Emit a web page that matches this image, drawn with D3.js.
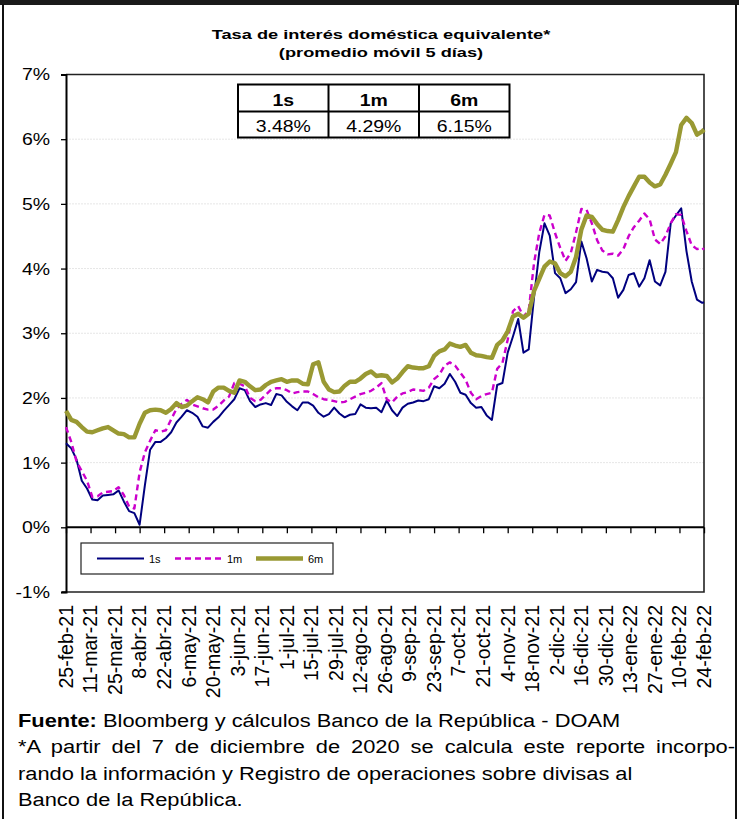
<!DOCTYPE html>
<html>
<head>
<meta charset="utf-8">
<script src="https://cdn.jsdelivr.net/npm/d3@7"></script>
<style>
  body { margin: 0; background: #fff; }
  svg { display: block; }
  text { font-family: Arial, "Liberation Sans", sans-serif; fill: #000; }
</style>
</head>
<body>
<svg id="chart" width="739" height="819"></svg>
<script>
// Observation dates (every third calendar day) and the three rate series, in %
const dates = [
  "2021-02-25","2021-02-28",
  "2021-03-03","2021-03-06","2021-03-09","2021-03-12","2021-03-15","2021-03-18","2021-03-21","2021-03-24","2021-03-27","2021-03-30",
  "2021-04-02","2021-04-05","2021-04-08","2021-04-11","2021-04-14","2021-04-17","2021-04-20","2021-04-23","2021-04-26","2021-04-29",
  "2021-05-02","2021-05-05","2021-05-08","2021-05-11","2021-05-14","2021-05-17","2021-05-20","2021-05-23","2021-05-26","2021-05-29",
  "2021-06-01","2021-06-04","2021-06-07","2021-06-10","2021-06-13","2021-06-16","2021-06-19","2021-06-22","2021-06-25","2021-06-28",
  "2021-07-01","2021-07-04","2021-07-07","2021-07-10","2021-07-13","2021-07-16","2021-07-19","2021-07-22","2021-07-25","2021-07-28","2021-07-31",
  "2021-08-03","2021-08-06","2021-08-09","2021-08-12","2021-08-15","2021-08-18","2021-08-21","2021-08-24","2021-08-27","2021-08-30",
  "2021-09-02","2021-09-05","2021-09-08","2021-09-11","2021-09-14","2021-09-17","2021-09-20","2021-09-23","2021-09-26","2021-09-29",
  "2021-10-02","2021-10-05","2021-10-08","2021-10-11","2021-10-14","2021-10-17","2021-10-20","2021-10-23","2021-10-26","2021-10-29",
  "2021-11-01","2021-11-04","2021-11-07","2021-11-10","2021-11-13","2021-11-16","2021-11-19","2021-11-22","2021-11-25","2021-11-28",
  "2021-12-01","2021-12-04","2021-12-07","2021-12-10","2021-12-13","2021-12-16","2021-12-19","2021-12-22","2021-12-25","2021-12-28","2021-12-31",
  "2022-01-03","2022-01-06","2022-01-09","2022-01-12","2022-01-15","2022-01-18","2022-01-21","2022-01-24","2022-01-27","2022-01-30",
  "2022-02-02","2022-02-05","2022-02-08","2022-02-11","2022-02-14","2022-02-17","2022-02-20","2022-02-23","2022-02-24"
];

const tasa1s = [
  1.30,1.22,1.05,0.72,0.60,0.43,0.42,0.49,0.50,0.51,
  0.57,0.40,0.25,0.22,0.04,0.65,1.20,1.32,1.32,1.38,
  1.47,1.62,1.71,1.81,1.77,1.71,1.56,1.54,1.63,1.70,
  1.80,1.89,1.98,2.15,2.12,1.95,1.86,1.90,1.92,1.89,
  2.06,2.04,1.94,1.87,1.81,1.93,1.93,1.88,1.77,1.71,
  1.75,1.85,1.76,1.70,1.74,1.75,1.90,1.85,1.84,1.85,
  1.78,1.96,1.81,1.72,1.85,1.91,1.93,1.96,1.95,1.98,
  2.18,2.15,2.22,2.37,2.25,2.08,2.05,1.92,1.85,1.86,
  1.73,1.66,2.20,2.23,2.70,2.95,3.22,2.70,2.75,3.55,
  4.25,4.70,4.51,3.93,3.85,3.62,3.68,3.79,4.42,4.16,
  3.80,3.98,3.95,3.94,3.85,3.55,3.67,3.90,3.93,3.72,
  3.85,4.13,3.80,3.74,3.95,4.70,4.82,4.93,4.27,3.80,
  3.52,3.47,3.48
];

const tasa1m = [
  1.55,1.32,1.02,0.87,0.72,0.47,0.48,0.54,0.55,0.56,
  0.62,0.50,0.32,0.29,0.85,1.16,1.34,1.50,1.48,1.50,
  1.67,1.83,1.91,1.97,1.90,1.87,1.84,1.82,1.82,1.88,
  1.96,2.02,2.23,2.22,2.18,2.00,1.95,1.97,2.05,2.13,
  2.15,2.15,2.12,2.07,2.09,2.10,2.10,2.06,2.01,1.98,
  1.97,1.95,1.93,1.94,1.98,2.02,2.06,2.08,2.11,2.16,
  2.23,1.98,1.93,2.02,2.07,2.09,2.13,2.12,2.11,2.16,
  2.29,2.36,2.50,2.55,2.50,2.39,2.28,2.08,1.98,2.03,
  2.06,2.08,2.45,2.54,2.90,3.34,3.42,3.26,3.35,4.08,
  4.55,4.83,4.82,4.55,4.32,4.12,4.24,4.56,4.92,4.91,
  4.70,4.44,4.28,4.22,4.23,4.20,4.30,4.50,4.64,4.74,
  4.85,4.76,4.45,4.38,4.50,4.70,4.84,4.83,4.58,4.36,
  4.30,4.32,4.29
];

const tasa6m = [
  1.80,1.66,1.63,1.55,1.48,1.47,1.50,1.53,1.55,1.50,
  1.45,1.44,1.39,1.39,1.60,1.77,1.81,1.82,1.81,1.77,
  1.83,1.92,1.86,1.88,1.95,2.01,1.98,1.93,2.10,2.16,
  2.16,2.11,2.08,2.27,2.25,2.18,2.12,2.13,2.20,2.25,
  2.27,2.29,2.25,2.27,2.27,2.22,2.21,2.52,2.55,2.25,
  2.13,2.09,2.10,2.19,2.25,2.25,2.30,2.37,2.41,2.34,
  2.35,2.34,2.24,2.30,2.40,2.49,2.47,2.46,2.46,2.49,
  2.65,2.72,2.75,2.84,2.81,2.79,2.82,2.70,2.66,2.65,
  2.63,2.62,2.82,2.89,3.03,3.26,3.30,3.24,3.30,3.65,
  3.84,4.03,4.11,4.08,3.93,3.88,3.95,4.18,4.60,4.82,
  4.80,4.69,4.60,4.58,4.57,4.75,4.95,5.12,5.27,5.42,
  5.42,5.33,5.27,5.30,5.45,5.62,5.80,6.22,6.33,6.25,
  6.07,6.12,6.15
];

const seriesNames = ["1s", "1m", "6m"];
const yTicks = [-1, 0, 1, 2, 3, 4, 5, 6, 7];
const tickDates = [
  "2021-02-25","2021-03-11","2021-03-25","2021-04-08","2021-04-22","2021-05-06","2021-05-20",
  "2021-06-03","2021-06-17","2021-07-01","2021-07-15","2021-07-29","2021-08-12","2021-08-26",
  "2021-09-09","2021-09-23","2021-10-07","2021-10-21","2021-11-04","2021-11-18","2021-12-02",
  "2021-12-16","2021-12-30","2022-01-13","2022-01-27","2022-02-10","2022-02-24"
];
const tickLabels = [
  "25-feb-21","11-mar-21","25-mar-21","8-abr-21","22-abr-21","6-may-21","20-may-21",
  "3-jun-21","17-jun-21","1-jul-21","15-jul-21","29-jul-21","12-ago-21","26-ago-21",
  "9-sep-21","23-sep-21","7-oct-21","21-oct-21","4-nov-21","18-nov-21","2-dic-21",
  "16-dic-21","30-dic-21","13-ene-22","27-ene-22","10-feb-22","24-feb-22"
];
const titleLines = ["Tasa de interés doméstica equivalente*", "(promedio móvil 5 días)"];
const footerLines = [
  "*A partir del 7 de diciembre de 2020 se calcula este reporte incorpo-",
  "rando la información y Registro de operaciones sobre divisas al",
  "Banco de la República."
];

const parse = d3.timeParse("%Y-%m-%d");
const W = 739, H = 819;
const plot = { left: 66, right: 704, top: 74.5, bottom: 592 };
const widen = 1.18; // horizontal text stretch used in the chart area
const footWiden = 1.15;

const styles = {
  "1s": { color: "#00007f", width: 2, dash: null },
  "1m": { color: "#cc00cc", width: 2.4, dash: "6,4" },
  "6m": { color: "#999933", width: 4.4, dash: null }
};
const seriesValues = { "1s": tasa1s, "1m": tasa1m, "6m": tasa6m };

const svg = d3.select("#chart");

// outer frame
svg.append("rect").attr("x", 0).attr("y", 0).attr("width", W).attr("height", 5).attr("fill", "#1a1a1a");
svg.append("line").attr("x1", 3).attr("x2", 3).attr("y1", 4).attr("y2", H).attr("stroke", "#111").attr("stroke-width", 2);
svg.append("line").attr("x1", 736).attr("x2", 736).attr("y1", 4).attr("y2", H).attr("stroke", "#111").attr("stroke-width", 2);

const x = d3.scaleTime()
  .domain([parse(dates[0]), parse(dates[dates.length - 1])])
  .range([plot.left, plot.right]);
const y = d3.scaleLinear().domain([-1, 7]).range([plot.bottom, plot.top]);

// title
svg.append("g").selectAll("text").data(titleLines).join("text")
  .attr("transform", (d, i) => `translate(381,${39 + i * 18}) scale(1.35,1)`)
  .attr("text-anchor", "middle")
  .attr("font-size", 13.5).attr("font-weight", "bold")
  .text(d => d);

// gridlines
svg.append("g").selectAll("line").data(yTicks.filter(t => t > 0 && t < 7)).join("line")
  .attr("x1", plot.left).attr("x2", plot.right)
  .attr("y1", d => y(d)).attr("y2", d => y(d))
  .attr("stroke", "#e6e6e6").attr("stroke-width", 1).attr("stroke-dasharray", "2,1");

// plot border (top, right, bottom)
svg.append("path")
  .attr("d", `M${plot.left},${plot.top}H${plot.right}V${plot.bottom}H${plot.left - 4}`)
  .attr("fill", "none").attr("stroke", "#222").attr("stroke-width", 1.6);

// y axis
const yAxis = svg.append("g").attr("transform", `translate(${plot.left},0)`)
  .call(d3.axisLeft(y).tickValues(yTicks).tickSize(5).tickFormat(""));
yAxis.select(".domain").attr("stroke", "#000").attr("stroke-width", 2);
yAxis.selectAll(".tick line").attr("stroke", "#000").attr("stroke-width", 1.3);
svg.append("g").selectAll("text").data(yTicks).join("text")
  .attr("transform", d => `translate(50,${y(d)}) scale(${widen},1)`)
  .attr("text-anchor", "end").attr("dy", "0.36em")
  .attr("font-size", 16.5)
  .text(d => d + "%");

// x axis on the zero line
const xAxis = svg.append("g").attr("transform", `translate(0,${y(0)})`)
  .call(d3.axisBottom(x).tickValues(tickDates.map(parse)).tickSize(6).tickFormat(""));
xAxis.select(".domain").attr("stroke", "#000").attr("stroke-width", 2).attr("d", `M${plot.left},0H${plot.right}`);
xAxis.selectAll(".tick line").attr("stroke", "#000").attr("stroke-width", 1.3);

// rotated date labels below the plot
svg.append("g").selectAll("text").data(tickDates).join("text")
  .attr("transform", d => `translate(${x(parse(d))},605) rotate(-90)`)
  .attr("text-anchor", "end").attr("dy", "0.35em")
  .attr("font-size", 19.5)
  .text((d, i) => tickLabels[i]);

// series lines
const line = d3.line()
  .x((d, i) => x(parse(dates[i])))
  .y(d => y(d))
  .curve(d3.curveLinear);

svg.append("g").selectAll("path").data(seriesNames).join("path")
  .attr("d", n => line(seriesValues[n]))
  .attr("fill", "none")
  .attr("stroke", n => styles[n].color)
  .attr("stroke-width", n => styles[n].width)
  .attr("stroke-dasharray", n => styles[n].dash)
  .attr("stroke-linejoin", "round");

// summary table with the latest values
const tbl = { x: 238, y: 84.5, colW: 90.5, headH: 27, rowH: 26 };
const tg = svg.append("g");
tg.append("rect").attr("x", tbl.x).attr("y", tbl.y)
  .attr("width", tbl.colW * 3).attr("height", tbl.headH + tbl.rowH)
  .attr("fill", "#fff").attr("stroke", "#000").attr("stroke-width", 2);
tg.append("line").attr("x1", tbl.x).attr("x2", tbl.x + tbl.colW * 3)
  .attr("y1", tbl.y + tbl.headH).attr("y2", tbl.y + tbl.headH)
  .attr("stroke", "#000").attr("stroke-width", 2);
tg.selectAll("line.col").data([1, 2]).join("line").attr("class", "col")
  .attr("x1", d => tbl.x + d * tbl.colW).attr("x2", d => tbl.x + d * tbl.colW)
  .attr("y1", tbl.y).attr("y2", tbl.y + tbl.headH + tbl.rowH)
  .attr("stroke", "#000").attr("stroke-width", 2);
tg.selectAll("text.head").data(seriesNames).join("text").attr("class", "head")
  .attr("transform", (d, i) => `translate(${tbl.x + (i + 0.5) * tbl.colW},${tbl.y + 21}) scale(${widen},1)`)
  .attr("text-anchor", "middle").attr("font-size", 16.5).attr("font-weight", "bold")
  .text(d => d);
tg.selectAll("text.val").data(seriesNames).join("text").attr("class", "val")
  .attr("transform", (d, i) => `translate(${tbl.x + (i + 0.5) * tbl.colW},${tbl.y + tbl.headH + 20}) scale(${widen},1)`)
  .attr("text-anchor", "middle").attr("font-size", 16.5)
  .text(d => d3.format(".2f")(seriesValues[d][seriesValues[d].length - 1]) + "%");

// legend
const lg = svg.append("g").attr("transform", "translate(81,543)");
lg.append("rect").attr("width", 252).attr("height", 31)
  .attr("fill", "#fff").attr("stroke", "#222").attr("stroke-width", 1.2);
const legX = [16, 94, 175];
seriesNames.forEach((n, i) => {
  lg.append("line").attr("x1", legX[i]).attr("x2", legX[i] + 47)
    .attr("y1", 15.5).attr("y2", 15.5)
    .attr("stroke", styles[n].color).attr("stroke-width", styles[n].width)
    .attr("stroke-dasharray", styles[n].dash);
  lg.append("text").attr("x", legX[i] + 52).attr("y", 19.5)
    .attr("font-size", 11).text(n);
});

// source and note (the hyphenated first note line is justified to the right margin)
const ft = svg.append("g").attr("transform", `translate(18,0) scale(${footWiden},1)`);
const src = ft.append("text").attr("x", 0).attr("y", 727).attr("font-size", 19);
src.append("tspan").attr("font-weight", "bold").text("Fuente:");
src.append("tspan").text(" Bloomberg y cálculos Banco de la República - DOAM");
const notes = ft.selectAll("text.note").data(footerLines).join("text").attr("class", "note")
  .attr("x", 0).attr("y", (d, i) => 753.5 + i * 26.3)
  .attr("font-size", 19).text(d => d);
notes.filter((d, i) => i === 0).each(function (d) {
  const target = (735 - 18) / footWiden;
  const gaps = d.split(" ").length - 1;
  const extra = target - this.getComputedTextLength();
  if (extra > 0) d3.select(this).attr("word-spacing", extra / gaps);
});
</script>
</body>
</html>
